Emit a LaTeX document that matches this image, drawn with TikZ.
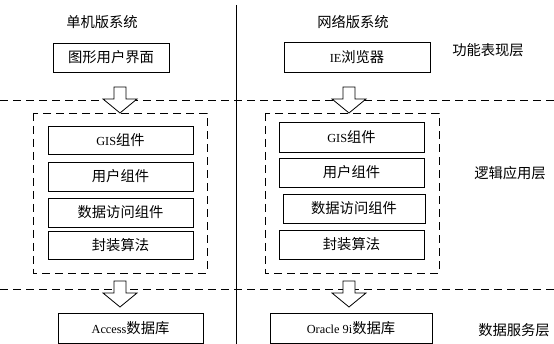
\documentclass[tikz,border=0pt]{standalone}
\usepackage{fontspec}
\setmainfont{Liberation Serif}[Scale=0.86]
\newfontfamily\cjk{Noto Sans CJK SC}
\newcommand{\zh}[1]{{\cjk #1}}
\usepackage{tikz}
\usetikzlibrary{positioning}

\tikzset{
    layerbox/.style={draw, line width=0.8pt, minimum height=29pt, inner sep=0pt},
    groupbox/.style={draw, line width=0.8pt, dash pattern=on 8pt off 5pt},
    sepline/.style={line width=0.8pt, dash pattern=on 8pt off 5pt},
    caption/.style={inner sep=0pt}
}
% hollow block arrow, #1 is the tip
\newcommand{\hollowarrow}[1]{%
    \draw[line width=0.8pt, fill=white] (#1) -- ++(-17,-14) -- ++(11,0) -- ++(0,-12)
        -- ++(12,0) -- ++(0,12) -- ++(11,0) -- cycle;}

\begin{document}
\begin{tikzpicture}[x=1pt, y=-1pt, font=\fontsize{14.3}{17}\selectfont]
    \useasboundingbox (0,0) rectangle (554,344);
    % layer separators and the split between the two systems
    \draw[sepline] (0,100) -- (554,100);
    \draw[sepline] (0,289) -- (554,289);
    \draw[line width=0.8pt] (236,5) -- (236,344);
    % column titles
    \node[caption] (tleft) at (102,22) {\zh{单机版系统}};
    \node[caption] (tright) at (353,22) {\zh{网络版系统}};
    % presentation layer
    \node[layerbox, minimum width=116pt] (gui) at (111,57.5) {\zh{图形用户界面}};
    \node[layerbox, minimum width=146pt, minimum height=30pt] (ie) at (357,57) {IE\zh{浏览器}};
    \node[caption] (lay1) at (488,50) {\zh{功能表现层}};
    % logic layer, stand-alone
    \draw[groupbox] (33,113) rectangle (207,273);
    \node[layerbox, minimum width=145pt, minimum height=28pt] (gisL) at (120.5,140) {GIS\zh{组件}};
    \node[layerbox, minimum width=145pt] (userL) at (120.5,176.5) {\zh{用户组件}};
    \node[layerbox, minimum width=145pt] (dataL) at (120.5,212.5) {\zh{数据访问组件}};
    \node[layerbox, minimum width=145pt, minimum height=28pt] (algL) at (120.5,245) {\zh{封装算法}};
    % logic layer, web
    \draw[groupbox] (265,113) rectangle (439,273);
    \node[layerbox, minimum width=145pt, minimum height=30pt] (gisR) at (351.5,137) {GIS\zh{组件}};
    \node[layerbox, minimum width=145pt] (userR) at (351.5,172.5) {\zh{用户组件}};
    \node[layerbox, minimum width=142pt] (dataR) at (354,208.5) {\zh{数据访问组件}};
    \node[layerbox, minimum width=145pt] (algR) at (351.5,244.5) {\zh{封装算法}};
    \node[caption] (lay2) at (510,173) {\zh{逻辑应用层}};
    % data layer
    \node[layerbox, minimum width=145pt, minimum height=30pt] (access) at (130.5,328) {Access\zh{数据库}};
    \node[layerbox, minimum width=162pt, minimum height=30pt] (oracle) at (351,328) {Oracle 9i\zh{数据库}};
    \node[caption] (lay3) at (514,330) {\zh{数据服务层}};
    % arrows between the layers
    \coordinate (a1) at (120,113);
    \coordinate (a2) at (349,113);
    \coordinate (a3) at (120,307);
    \coordinate (a4) at (349,307);
    \foreach \a in {a1,a2,a3,a4}
        \hollowarrow{\a};
\end{tikzpicture}
\end{document}
